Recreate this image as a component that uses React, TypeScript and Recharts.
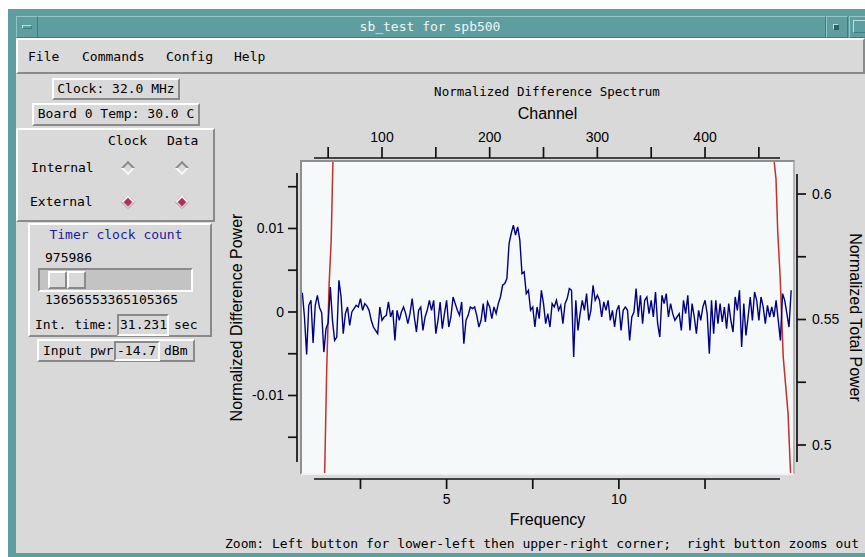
import React from 'react'
import { LineChart, Line, XAxis, YAxis, Label } from 'recharts'

const MONO = '"DejaVu Sans Mono", "Liberation Mono", monospace'
const SANS = '"Liberation Sans", Arial, Helvetica, sans-serif'
const GRAY = '#d9d9d9'
const TEAL = '#5f9ea0'

// difference spectrum, one value every 2nd channel from channel 26 to 480
const CHANNEL_START = 26
const CHANNEL_STEP = 2
const DIFF_POWER = [
  0.0023, -0.0006, -0.0051, 0.0008, 0.0014, -0.0037, 0.0008, 0.002, 0.0005, -0.0001,
  -0.0048, -0.002, -0.0013, 0.003, -0.001, -0.0034, -0.003, 0.0038, 0.0018, -0.0026,
  -0.0002, 0.0006, -0.0016, 0.0, 0.0004, 0.0008, 0.0006, 0.0016, 0.0002, 0.001,
  0.0007, 0.0002, -0.001, -0.0018, -0.0022, -0.0026, 0.0006, -0.001, -0.0006, -0.0004,
  0.0012, -0.0006, 0.0002, -0.0034, 0.0002, -0.001, 0.0, 0.0006, -0.0002, -0.0014,
  -0.0002, 0.0016, -0.0006, -0.0024, 0.0002, 0.0006, -0.0022, -0.0006, 0.0002, 0.0014,
  0.0002, 0.0014, -0.0026, -0.001, 0.0012, -0.002, -0.0002, 0.0014, -0.0018, -0.0006,
  0.0018, 0.001, 0.0002, -0.0004, 0.0012, -0.0038, -0.001, -0.0004, 0.0006, 0.0004,
  0.0006, -0.0004, -0.0018, -0.001, 0.001, -0.0012, 0.0012, 0.0006, -0.0008, 0.0006,
  -0.0002, 0.001, 0.0018, 0.0032, 0.0034, 0.004, 0.0082, 0.0094, 0.0104, 0.0092,
  0.0102, 0.0086, 0.0046, 0.0048, 0.0022, 0.0026, 0.0002, 0.0006, -0.0018, 0.0006,
  -0.0008, 0.0026, 0.001, -0.0014, -0.0002, -0.0018, 0.001, 0.0006, 0.0014, 0.0002,
  0.0008, -0.0014, 0.001, 0.0016, 0.0028, 0.0026, -0.0054, 0.0014, -0.0022, -0.0002,
  0.0014, 0.0002, 0.0022, -0.001, 0.0002, 0.0032, 0.0014, 0.002, 0.0014, -0.0006,
  0.0012, 0.0002, 0.0014, -0.001, 0.0002, -0.0018, 0.0002, 0.0008, -0.0022, 0.0002,
  0.0006, 0.0002, -0.0034, -0.0006, 0.0, 0.0028, -0.0006, 0.002, -0.0014, 0.0014,
  0.0018, -0.0002, 0.0014, -0.0006, 0.0024, -0.0014, -0.003, 0.002, 0.001, 0.0022,
  -0.0006, 0.001, -0.0002, -0.001, -0.0006, -0.0002, -0.0022, 0.0014, -0.0002, 0.002,
  -0.0022, 0.001, -0.0006, -0.0026, 0.0002, -0.001, 0.0006, 0.0014, -0.0002, -0.005,
  0.0014, -0.0026, 0.0014, -0.0014, 0.001, -0.0012, 0.0006, -0.002, 0.001, -0.001,
  -0.0024, 0.0018, 0.0002, 0.0026, -0.0042, 0.001, -0.0028, -0.0006, 0.0018, -0.001,
  0.0024, 0.0014, -0.001, 0.0018, 0.0006, -0.0014, 0.0008, -0.0006, 0.0006, -0.0006,
  0.0014, -0.001, -0.0034, 0.0022, 0.0014, -0.0002, -0.0018, 0.0026,
]

// normalized total power against frequency, only the band edges show in the view
const TOTAL_FREQ = [1.4, 1.46, 1.47, 1.52, 1.59, 1.65, 1.7, 1.78, 3.0, 7.5, 12.5, 14.45, 14.51, 14.56, 14.61, 14.68, 14.77, 14.91, 14.97, 15.05]
const TOTAL_POWER = [0.47, 0.489, 0.495, 0.53, 0.564, 0.5815, 0.6125, 0.66, 0.85, 0.95, 0.85, 0.66, 0.6125, 0.606, 0.585, 0.567, 0.535, 0.5125, 0.4926, 0.47]

const CHANNEL_TICKS = [50, 100, 150, 200, 250, 300, 350, 400, 450]
const CHANNEL_LABELS = [100, 200, 300, 400]
const FREQ_TICKS = [2.5, 5, 7.5, 10, 12.5]
const FREQ_LABELS = [5, 10]
const DIFF_TICKS = [-0.015, -0.01, -0.005, 0, 0.005, 0.01, 0.015]
const DIFF_LABELS = [-0.01, 0, 0.01]
const TOTAL_TICKS = [0.5, 0.525, 0.55, 0.575, 0.6]
const TOTAL_LABELS = [0.5, 0.55, 0.6]

const MHZ_PER_CHANNEL = 32 / 1024
const CHANNEL_DOMAIN = [25.7, 481.7]
const FREQ_DOMAIN = [CHANNEL_DOMAIN[0] * MHZ_PER_CHANNEL, CHANNEL_DOMAIN[1] * MHZ_PER_CHANNEL]
const DIFF_DOMAIN = [-0.01928, 0.01796]
const TOTAL_DOMAIN = [0.48884, 0.61275]

const diffData = DIFF_POWER.map((v, i) => ({ ch: CHANNEL_START + i * CHANNEL_STEP, diff: v }))
const totalData = TOTAL_FREQ.map((f, i) => ({ freq: f, total: TOTAL_POWER[i] }))

const INK = '#111'
const tickText = { fontFamily: SANS, fontSize: 14, fill: '#000' }
const titleText = { fontFamily: SANS, fontSize: 16, fill: '#000' }

function LeftTick({ x, y, payload }: any) {
  return (
    <g>
      <line x1={x - 5} x2={x - 14} y1={y} y2={y} stroke={INK} strokeWidth={1.7} />
      {DIFF_LABELS.includes(payload.value) && (
        <text x={x - 18} y={y} dy="0.35em" textAnchor="end" {...tickText}>{payload.value}</text>
      )}
    </g>
  )
}

function RightTick({ x, y, payload }: any) {
  return (
    <g>
      <line x1={x + 4} x2={x + 13} y1={y} y2={y} stroke={INK} strokeWidth={1.7} />
      {TOTAL_LABELS.includes(payload.value) && (
        <text x={x + 19} y={y} dy="0.35em" textAnchor="start" {...tickText}>{payload.value}</text>
      )}
    </g>
  )
}

function TopTick({ x, y, payload }: any) {
  return (
    <g>
      <line x1={x} x2={x} y1={y - 4} y2={y - 15} stroke={INK} strokeWidth={1.7} />
      {CHANNEL_LABELS.includes(payload.value) && (
        <text x={x} y={y - 20.5} textAnchor="middle" {...tickText}>{payload.value}</text>
      )}
    </g>
  )
}

function BottomTick({ x, y, payload }: any) {
  return (
    <g>
      <line x1={x} x2={x} y1={y + 6} y2={y + 16} stroke={INK} strokeWidth={1.7} />
      {FREQ_LABELS.includes(payload.value) && (
        <text x={x} y={y + 31} textAnchor="middle" {...tickText}>{payload.value}</text>
      )}
    </g>
  )
}

// Tk style 3D box
function Bevel({ x, y, w, h, sunken = false, bg = GRAY, bw = 2, light = '#ffffff', dark = '#8a8a8a' }: any) {
  return (
    <div
      style={{
        position: 'absolute', left: x, top: y, width: w, height: h, boxSizing: 'border-box',
        background: bg, borderStyle: 'solid', borderWidth: bw,
        borderColor: sunken ? `${dark} ${light} ${light} ${dark}` : `${light} ${dark} ${dark} ${light}`,
      }}
    />
  )
}

function T({ x, y, children, color = '#000', size = 13, center = false, font = MONO }: any) {
  return (
    <div
      style={{
        position: 'absolute', left: x, top: y - 9, height: 18, lineHeight: '18px',
        fontSize: size, fontFamily: font, color, whiteSpace: 'pre',
        transform: center ? 'translateX(-50%)' : undefined,
      }}
    >
      {children}
    </div>
  )
}

function Diamond({ x, y, on }: any) {
  return (
    <div
      style={{
        position: 'absolute', left: x - 5, top: y - 5, width: 6, height: 6,
        transform: 'rotate(45deg)', background: on ? '#b0305a' : GRAY,
        borderStyle: 'solid', borderWidth: 2,
        borderColor: on ? '#f4f4f4 #c8c8c8 #c8c8c8 #f4f4f4' : '#8a8a8a #f8f8f8 #f8f8f8 #8a8a8a',
      }}
    />
  )
}

export default function App() {
  return (
    <div style={{ position: 'absolute', left: 0, top: 0, width: 865, height: 557, background: '#fff', overflow: 'hidden' }}>
      {/* window frame */}
      <div style={{ position: 'absolute', left: 8, top: 9, width: 857, height: 548, background: TEAL }} />
      <Bevel x={16} y={16} w={810} h={22} bg={TEAL} light="#93c6c6" dark="#3f7c7e" bw={1} />
      <Bevel x={16} y={16} w={22} h={22} bg={TEAL} light="#93c6c6" dark="#3f7c7e" bw={1} />
      <Bevel x={22} y={25} w={10} h={4} bg={TEAL} light="#b8dede" dark="#3f7c7e" bw={1} />
      <Bevel x={826} y={16} w={22} h={22} bg={TEAL} light="#93c6c6" dark="#3f7c7e" bw={1} />
      <Bevel x={833} y={24} w={6} h={6} bg="#2f6264" light="#b8dede" dark="#2f6264" bw={1} />
      <Bevel x={849} y={16} w={20} h={22} bg={TEAL} light="#93c6c6" dark="#3f7c7e" bw={1} />
      <Bevel x={853} y={20} w={14} h={13} bg={TEAL} light="#b8dede" dark="#3f7c7e" bw={1} />
      <T x={430} y={27} center color="#eef6f6">sb_test for spb500</T>

      {/* client area */}
      <div style={{ position: 'absolute', left: 16, top: 38, width: 849, height: 515, background: GRAY }} />
      <Bevel x={16} y={38} w={849} h={36} />
      <T x={28} y={57}>File</T>
      <T x={82} y={57}>Commands</T>
      <T x={166} y={57}>Config</T>
      <T x={234} y={57}>Help</T>

      {/* left control panel */}
      <Bevel x={52} y={78} w={128} h={22} />
      <T x={116} y={89} center>Clock: 32.0 MHz</T>
      <Bevel x={32} y={103} w={168} h={23} />
      <T x={116} y={114} center>Board 0 Temp: 30.0 C</T>

      <Bevel x={16} y={128} w={199} h={94} />
      <T x={108} y={141}>Clock</T>
      <T x={167} y={141}>Data</T>
      <T x={31} y={168}>Internal</T>
      <T x={30} y={202}>External</T>
      <Diamond x={128} y={168} on={false} />
      <Diamond x={182} y={168} on={false} />
      <Diamond x={128} y={202} on />
      <Diamond x={182} y={202} on />

      <Bevel x={28} y={223} w={184} h={114} />
      <T x={116} y={235} center color="#1a1aa8">Timer clock count</T>
      <T x={45} y={258}>975986</T>
      <Bevel x={38} y={268} w={155} h={24} sunken bg="#c3c3c3" />
      <Bevel x={48} y={271} w={19} h={18} />
      <Bevel x={67} y={271} w={19} h={18} />
      <T x={45} y={300}>13656553365105365</T>
      <T x={35} y={325}>Int. time:</T>
      <Bevel x={117} y={314} w={52} h={22} sunken />
      <T x={120} y={325}>31.231</T>
      <T x={174} y={325}>sec</T>

      <Bevel x={37} y={339} w={158} h={23} />
      <T x={43} y={351}>Input pwr</T>
      <Bevel x={114} y={341} w={46} h={20} sunken />
      <T x={117} y={351}>-14.7</T>
      <T x={164} y={351}>dBm</T>

      {/* graph */}
      <T x={547} y={92} center size={12.5}>Normalized Difference Spectrum</T>
      <div
        style={{
          position: 'absolute', left: 300, top: 160, width: 495, height: 315, boxSizing: 'border-box',
          background: '#f5f9f9', borderStyle: 'solid', borderWidth: 2,
          borderColor: '#8e8e8e #b4b4b4 #f2f2f2 #8e8e8e',
        }}
      />
      <div style={{ position: 'absolute', left: 0, top: 0 }}>
        <LineChart width={865} height={557} margin={{ top: 108, right: 0, bottom: 28, left: 222 }}>
          <XAxis
            xAxisId="chan" dataKey="ch" type="number" orientation="top" height={54}
            domain={CHANNEL_DOMAIN} allowDataOverflow ticks={CHANNEL_TICKS} interval={0}
            tickSize={0} tickMargin={0} tickLine={false} tick={TopTick}
            axisLine={{ stroke: INK, strokeWidth: 1.7, transform: 'translate(0 -4)', strokeDasharray: '0 12 466 100' }}
          >
            <Label value="Channel" position="insideTop" offset={0} style={titleText} />
          </XAxis>
          <XAxis
            xAxisId="freq" dataKey="freq" type="number" orientation="bottom" height={56}
            domain={FREQ_DOMAIN} allowDataOverflow ticks={FREQ_TICKS} interval={0}
            tickSize={0} tickMargin={0} tickLine={false} tick={BottomTick}
            axisLine={{ stroke: INK, strokeWidth: 1.7, transform: 'translate(0 6)', strokeDasharray: '0 12 466 100' }}
          >
            <Label value="Frequency" position="insideBottom" offset={4} style={titleText} />
          </XAxis>
          <YAxis
            yAxisId="diff" type="number" orientation="left" width={80}
            domain={DIFF_DOMAIN} allowDataOverflow ticks={DIFF_TICKS} interval={0}
            tickSize={0} tickMargin={0} tickLine={false} tick={LeftTick}
            axisLine={{ stroke: INK, strokeWidth: 1.7, transform: 'translate(-5 0)', strokeDasharray: '0 11 289 100' }}
          >
            <Label
              value="Normalized Difference Power" angle={-90} position="insideLeft" offset={9} dx={5}
              style={{ ...titleText, textAnchor: 'middle' }}
            />
          </YAxis>
          <YAxis
            yAxisId="tot" type="number" orientation="right" width={72}
            domain={TOTAL_DOMAIN} allowDataOverflow ticks={TOTAL_TICKS} interval={0}
            tickSize={0} tickMargin={0} tickLine={false} tick={RightTick}
            axisLine={{ stroke: INK, strokeWidth: 1.7, transform: 'translate(4 0)', strokeDasharray: '0 12 288 100' }}
          >
            <Label
              value="Normalized Total Power" angle={90} position="insideRight" offset={9}
              style={{ ...titleText, textAnchor: 'middle' }}
            />
          </YAxis>
          <Line
            data={totalData} xAxisId="freq" yAxisId="tot" dataKey="total" type="linear"
            stroke="#c4302c" strokeWidth={1.5} dot={false} isAnimationActive={false}
          />
          <Line
            data={diffData} xAxisId="chan" yAxisId="diff" dataKey="diff" type="linear"
            stroke="#000080" strokeWidth={1.4} dot={false} isAnimationActive={false}
          />
        </LineChart>
      </div>

      <T x={225} y={544}>Zoom: Left button for lower-left then upper-right corner;  right button zooms out</T>
    </div>
  )
}
